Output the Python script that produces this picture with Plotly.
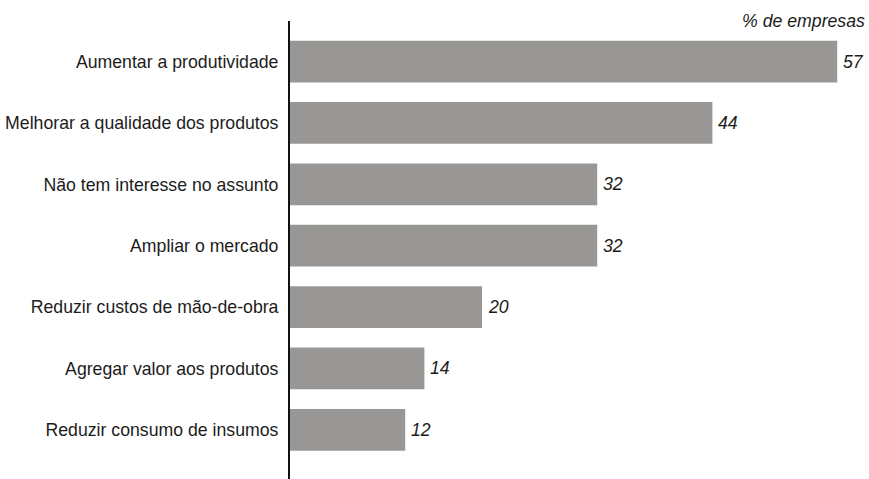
import plotly.graph_objects as go

categories = [
    "Aumentar a produtividade",
    "Melhorar a qualidade dos produtos",
    "Não tem interesse no assunto",
    "Ampliar o mercado",
    "Reduzir custos de mão-de-obra",
    "Agregar valor aos produtos",
    "Reduzir consumo de insumos",
]
values = [57, 44, 32, 32, 20, 14, 12]
value_labels = ["57", "44", "32", "32", "20", "14", "12"]
unit_note = "% de empresas"

FONT = "Liberation Sans, Arial, sans-serif"
TXT = "#1c1c1c"
FS = 17.7

fig = go.Figure(
    go.Bar(
        x=values,
        y=categories,
        orientation="h",
        marker=dict(color="#999795", line=dict(width=0)),
        hoverinfo="skip",
    )
)

annotations = [
    dict(
        x=v,
        y=c,
        xref="x",
        yref="y",
        text="<i>" + t + "</i>",
        showarrow=False,
        xanchor="left",
        yanchor="middle",
        xshift=4,
        font=dict(family=FONT, size=FS, color=TXT),
    )
    for c, v, t in zip(categories, values, value_labels)
]
annotations.append(
    dict(
        text="<i>" + unit_note + "</i>",
        xref="paper",
        yref="paper",
        x=1,
        y=1,
        xanchor="right",
        yanchor="middle",
        showarrow=False,
        font=dict(family=FONT, size=FS, color=TXT),
        yshift=0,
        xshift=1,
    )
)

fig.update_layout(
    width=869,
    height=479,
    margin=dict(l=290, r=3, t=21, b=0),
    paper_bgcolor="white",
    plot_bgcolor="white",
    bargap=0.32,
    showlegend=False,
    font=dict(family=FONT, size=FS, color=TXT),
    xaxis=dict(
        range=[0, 60],
        visible=False,
        showgrid=False,
        zeroline=False,
    ),
    yaxis=dict(
        range=[6.8, -0.66],
        showgrid=False,
        zeroline=False,
        showline=True,
        linecolor="#111111",
        linewidth=2,
        ticks="",
        ticklabelstandoff=6,
        tickfont=dict(family=FONT, size=FS, color=TXT),
    ),
    annotations=annotations,
)

fig.write_html(
    "out.html",
    config={"displayModeBar": False},
    post_script="document.body.style.margin='0';document.body.style.overflow='hidden';",
)
